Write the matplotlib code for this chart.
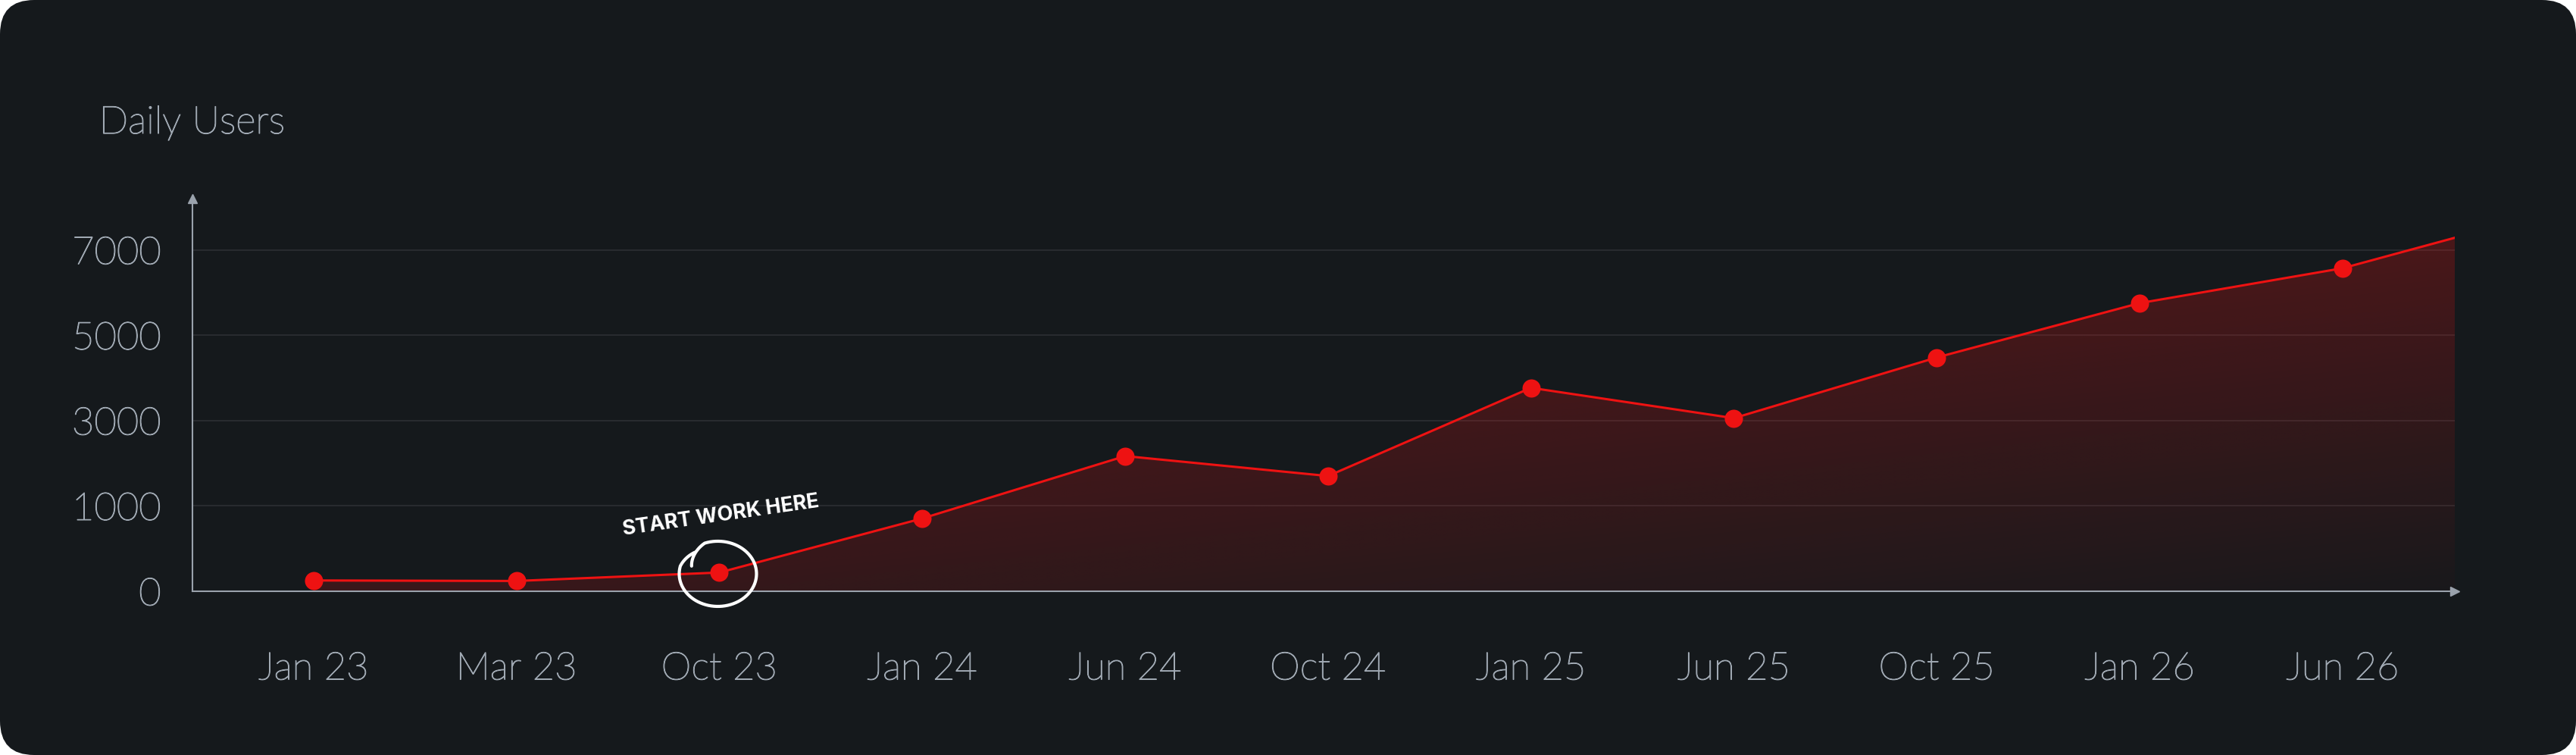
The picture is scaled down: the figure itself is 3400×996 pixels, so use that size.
import numpy as np
import matplotlib
matplotlib.use("Agg")
import matplotlib.pyplot as plt
import matplotlib.patheffects as pe
from matplotlib.patches import FancyBboxPatch
from matplotlib.lines import Line2D
from matplotlib.transforms import IdentityTransform, ScaledTranslation

# ---------------- data ----------------
months = ["Jan 23", "Mar 23", "Oct 23", "Jan 24", "Jun 24", "Oct 24",
          "Jan 25", "Jun 25", "Oct 25", "Jan 26", "Jun 26"]
users = [124, 118, 217, 851, 2164, 1697, 3764, 3053, 4476, 5750, 6568]
tail_users = 7282          # value where the line leaves the plot on the right
y_ticks = [0, 1000, 3000, 5000, 7000]
y_tick_labels = ["0", "1000", "3000", "5000", "7000"]
title = "Daily Users"
note = "START WORK HERE"
note_index = 2

# ---------------- style ----------------
BG = "#15191c"
RED = "#ee1212"
LABEL = "#a0a9b3"
AXIS = "#9aa2ac"
GRID = "#2b2e32"

plt.rcParams["font.family"] = ["Lato", "DejaVu Sans"]
plt.rcParams["font.weight"] = "light"
THICKEN = [pe.Stroke(linewidth=0.9, foreground=LABEL), pe.Normal()]

# y scale: tick values equally spaced (piecewise linear)
_tv = np.array([0, 1000, 3000, 5000, 7000], float)
_tp = np.arange(len(_tv), dtype=float)


def fwd(v):
    v = np.asarray(v, float)
    return np.where(v < 0, v / 1000.0,
                    np.where(v > 7000, 4 + (v - 7000) / 2000.0, np.interp(v, _tv, _tp)))


def inv(t):
    t = np.asarray(t, float)
    return np.where(t < 0, t * 1000.0,
                    np.where(t > 4, 7000 + (t - 4) * 2000.0, np.interp(t, _tp, _tv)))


def dense_segments(x, y, per=40):
    """Straight segments (in the axis' transformed space) sampled densely."""
    x = np.asarray(x, float)
    t = fwd(y)
    xs, ts = [], []
    for i in range(len(x) - 1):
        u = np.linspace(0, 1, per, endpoint=(i == len(x) - 2))
        xs.append(x[i] + u * (x[i + 1] - x[i]))
        ts.append(t[i] + u * (t[i + 1] - t[i]))
    return np.concatenate(xs), inv(np.concatenate(ts))


W_PX, H_PX, DPI = 3400, 996, 100
fig = plt.figure(figsize=(W_PX / DPI, H_PX / DPI), dpi=DPI, facecolor="white")
card = FancyBboxPatch((0, 0), W_PX, H_PX, boxstyle="round,pad=0,rounding_size=45",
                      transform=IdentityTransform(), facecolor=BG, edgecolor="none",
                      zorder=-10)
fig.add_artist(card)

ax = fig.add_axes([254 / W_PX, 1 - 779.7 / H_PX, (3240 - 254) / W_PX, (779.7 - 262) / H_PX])
ax.set_facecolor("none")
ax.set_yscale("function", functions=(fwd, inv))
ax.set_autoscale_on(False)

n = len(months)
x_left = -0.597
x_right = n - 1 + 0.553
y_top = 8200
ax.set_xlim(x_left, x_right)
ax.set_ylim(0, y_top)

xall = np.append(np.arange(n, dtype=float), x_right)
yall = np.append(np.asarray(users, float), tail_users)
cx, cy = dense_segments(xall, yall)

# fill with diagonal gradient
fill = ax.fill_between(cx, 0, cy, facecolor="none", edgecolor="none", zorder=2)
u0 = (0 - x_left) / (x_right - x_left)
v1 = float(fwd(cy.max()) / fwd(y_top))
gu = np.linspace(0, 1, 400)[None, :]
gv = np.linspace(0, 1, 200)[:, None]
alpha = np.clip(0.40 - 0.155 * gu - 0.225 * gv, 0, 1)
rgba = np.zeros((200, 400, 4))
rgba[..., :3] = matplotlib.colors.to_rgb(RED)
rgba[..., 3] = alpha
im = ax.imshow(rgba, extent=(u0, 1, 0, v1), transform=ax.transAxes, aspect="auto",
               origin="upper", interpolation="bilinear", zorder=2)
im.set_clip_path(fill.get_paths()[0], transform=ax.transData)

ax.plot(cx, cy, color=RED, lw=2.2, zorder=4, solid_joinstyle="round")
ax.plot(np.arange(n), users, "o", ms=17.3, color=RED, mec="none", zorder=5)

ax.set_xlim(x_left, x_right)
ax.set_ylim(0, y_top)

# axes, grid, ticks
ax.set_xticks(np.arange(n))
ax.set_xticklabels(months)
ax.set_yticks(y_ticks)
ax.set_yticklabels(y_tick_labels)
ax.grid(axis="y", color=GRID, lw=1.3)
ax.set_axisbelow(True)
for side in ("top", "right"):
    ax.spines[side].set_visible(False)
for side in ("left", "bottom"):
    ax.spines[side].set_color(AXIS)
    ax.spines[side].set_linewidth(1.5)
ax.tick_params(axis="both", length=0, colors=LABEL, labelsize=36.5)
ax.tick_params(axis="x", pad=57)
ax.tick_params(axis="y", pad=29.8)
for lbl in ax.get_xticklabels() + ax.get_yticklabels():
    lbl.set_path_effects(THICKEN)
ax.plot(1, 0, marker=">", ms=8, color=AXIS, transform=ax.transAxes, clip_on=False, zorder=6)
ax.plot(0, 1, marker="^", ms=8, color=AXIS, transform=ax.transAxes, clip_on=False, zorder=6)

fig.text(130.7 / W_PX, 1 - 176 / H_PX, title, ha="left", va="baseline",
         fontsize=36.5, color=LABEL, path_effects=THICKEN)

# annotation: text + hand drawn loop around the point
pt = (note_index, users[note_index])
ax.annotate(note, xy=pt, xytext=(2 * 0.72, 75 * 0.72), textcoords="offset points",
            ha="center", va="center", rotation=8.2, rotation_mode="anchor",
            color="white", fontsize=19.5, fontweight="bold",
            family=["Inter", "DejaVu Sans"], zorder=7)

theta = np.deg2rad(np.linspace(-163.6, 222.7, 400))
a_ax, b_ax = 51.0, 43.0
r = a_ax * b_ax / np.sqrt((b_ax * np.cos(theta)) ** 2 + (a_ax * np.sin(theta)) ** 2)
frac = np.linspace(0, 1, theta.size)
f = np.ones_like(frac)
f = np.where(frac < 0.13, 0.72 + 0.28 * (frac / 0.13), f)
f = np.where(frac > 0.92, 1 - 0.11 * (frac - 0.92) / 0.08, f)
ox = -2 + f * r * np.cos(theta)
oy = -1.7 - f * r * np.sin(theta)
loop = Line2D(ox, oy, color="white", lw=3.0, solid_capstyle="round",
              transform=ScaledTranslation(pt[0], pt[1], ax.transData), zorder=7)
loop.set_clip_on(False)
ax.add_artist(loop)

fig.savefig("out.png", dpi=DPI)
